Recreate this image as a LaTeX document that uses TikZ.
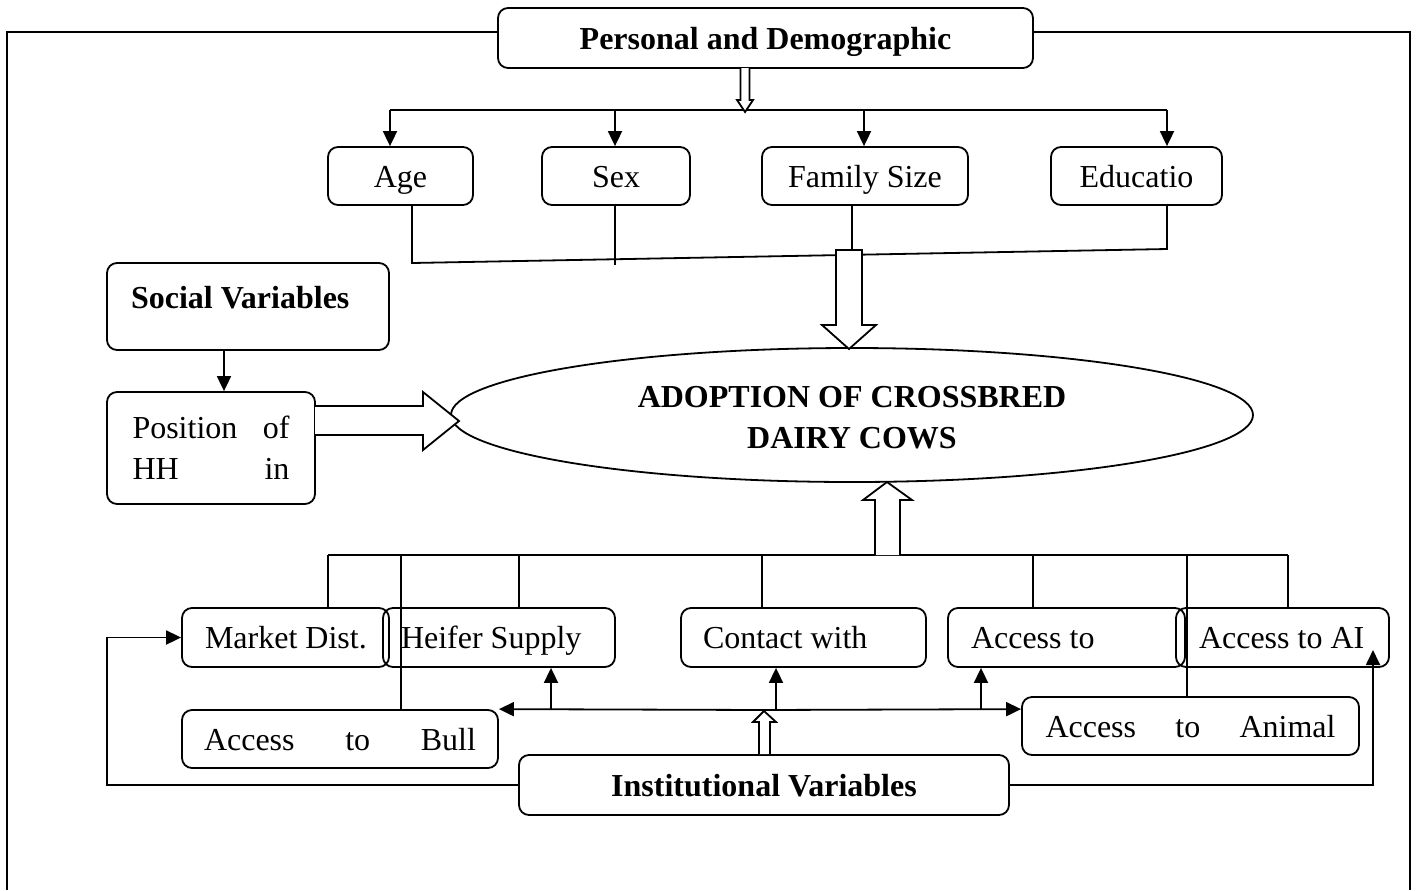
\documentclass[tikz,border=0pt]{standalone}
\usepackage{fontspec}
\setmainfont{Liberation Serif}
\usetikzlibrary{arrows.meta,shapes.geometric}
\begin{document}
\begin{tikzpicture}[x=0.5pt,y=-0.5pt,
  every node/.style={font=\fontsize{16}{20.5}\selectfont},
  ln/.style={line width=0.9pt},
  arr/.style={ln,-{Triangle[length=7.5pt,width=7pt]}},
  box/.style={draw,ln,rounded corners=5pt,inner sep=0pt,text height=14pt,text depth=3pt},
  hollow/.style={draw,ln,fill=white,line join=miter},
]
\useasboundingbox (0,0) rectangle (1420,890);

% nodes
\node[box,minimum width=267.5pt,minimum height=30pt] (pd) at (765.5,38) {\bfseries Personal and Demographic};
\node[box,minimum width=72.5pt,minimum height=29pt] (age) at (400.5,176) {Age};
\node[box,minimum width=74pt,minimum height=29pt] (sex) at (616,176) {Sex};
\node[box,minimum width=103pt,minimum height=29pt] (fam) at (865,176) {Family Size};
\node[box,minimum width=85.5pt,minimum height=29pt] (edu) at (1136.5,176) {Educatio};

\node[box,minimum height=43.5pt,inner xsep=12pt] (soc) at (248,306.5)
  {\raisebox{4.75pt}[\height][\depth]{\makebox[117pt][l]{\bfseries Social Variables}}};
\node[draw,ln,rounded corners=5pt,minimum height=56pt,text width=78.5pt,align=left,inner xsep=12.75pt,inner ysep=0pt] (pos) at (211,448)
  {\hbox to 78.5pt{Position\hfill of}\\\hbox to 78.5pt{HH\hfill in}};

\node[draw,ln,ellipse,minimum width=401pt,minimum height=67pt,inner sep=0pt,align=center,
  font=\fontsize{16}{20.5}\selectfont\bfseries] (ado) at (852,415) {\rule{0pt}{13pt}ADOPTION OF CROSSBRED\\DAIRY COWS};

\node[box,minimum height=29.5pt,inner xsep=11.5pt] (mkt) at (285.5,637.5) {\makebox[80.5pt][l]{Market Dist.}};
\node[box,minimum height=29.5pt,inner xsep=9pt] (hef) at (499,637.5) {\makebox[98pt][l]{Heifer Supply}};
\node[box,minimum height=29.5pt,inner xsep=11pt] (con) at (803.5,637.5) {\makebox[100.5pt][l]{Contact with}};
\node[box,minimum height=29.5pt,inner xsep=11.5pt] (acc) at (1066.5,637.5) {\makebox[95.5pt][l]{Access to}};
\node[box,minimum height=29.5pt,inner xsep=11.5pt] (aai) at (1282.5,637.5) {\makebox[83.5pt][l]{Access to AI}};

\node[box,minimum height=29pt,inner xsep=11pt] (bul) at (340,739)
  {\hbox to 136pt{Access\hfill to\hfill Bull}};
\node[box,minimum height=29pt,inner xsep=11.75pt] (ani) at (1190.5,726)
  {\hbox to 145pt{Access\hfill to\hfill Animal}};

\node[box,minimum width=245pt,minimum height=30pt] (ins) at (764,785) {\bfseries Institutional Variables};

% outer frame
\draw[ln] (pd.west |- 0,32) -- (7,32) -- (7,890);
\draw[ln] (pd.east |- 0,32) -- (1410,32) -- (1410,890);

% top branching
\draw[ln] (390,110) -- (1167,110);
\draw[arr] (390,110) -- (390,0 |- age.north);
\draw[arr] (615,110) -- (615,0 |- sex.north);
\draw[arr] (864,110) -- (864,0 |- fam.north);
\draw[arr] (1167,110) -- (1167,0 |- edu.north);
\draw[hollow] (740.5,68) -- (740.5,100) -- (737,100) -- (745,112) -- (753,100) -- (749.5,100) -- (749.5,68);

% joining lines below the personal boxes
\draw[ln] (412,0 |- age.south) -- (412,263) -- (1167,249) -- (1167,0 |- edu.south);
\draw[ln] (615,0 |- sex.south) -- (615,265);
\draw[ln] (852,0 |- fam.south) -- (852,250);
\draw[hollow] (836,250) -- (836,325) -- (822,325) -- (849,349) -- (876,325) -- (862,325) -- (862,250) -- cycle;

% social
\draw[arr] (224,0 |- soc.south) -- (224,0 |- pos.north);
\draw[hollow] (315,406) -- (423,406) -- (423,392) -- (459,421) -- (423,450) -- (423,435) -- (315,435);

% institutional collector
\draw[ln] (328,555) -- (1288,555);
\draw[ln] (328,555) -- (328,0 |- mkt.north);
\draw[ln] (401,555) -- (401,0 |- bul.north);
\draw[ln] (519,555) -- (519,0 |- hef.north);
\draw[ln] (762,555) -- (762,0 |- con.north);
\draw[ln] (1033,555) -- (1033,0 |- acc.north);
\draw[ln] (1187,555) -- (1187,0 |- ani.north);
\draw[ln] (1288,555) -- (1288,0 |- aai.north);
\draw[hollow] (875,555) -- (875,500) -- (863,500) -- (887,482) -- (912,500) -- (900,500) -- (900,555);

% institutional distribution
\draw[arr] (764,710) -- (bul.north east);
\draw[arr] (764,710) -- (ani.west |- bul.north);
\draw[arr] (551,710) -- (551,0 |- hef.south);
\draw[arr] (776,710) -- (776,0 |- con.south);
\draw[arr] (981,710) -- (981,0 |- acc.south);
\draw[hollow] (759,0 |- ins.north) -- (759,722) -- (753,722) -- (764,711) -- (776,722) -- (770,722) -- (770,0 |- ins.north);

\draw[arr] (ins.west) -- (107,785) -- (107,637.5) -- (mkt.west);
\draw[arr] (ins.east) -- (1373,785) -- (1373,650);
\end{tikzpicture}
\end{document}
